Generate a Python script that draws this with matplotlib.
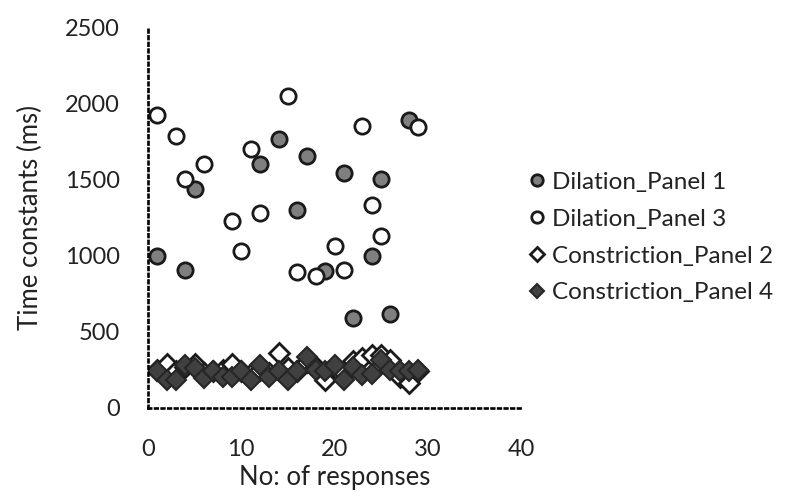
import matplotlib.pyplot as plt

# time constants for each panel, x = response number
dil1_x = [1, 4, 5, 12, 14, 16, 17, 19, 21, 22, 24, 25, 26, 28]
dil1_y = [1000, 905, 1435, 1600, 1765, 1300, 1655, 900, 1545, 590, 995, 1500, 615, 1890]

dil3_x = [1, 3, 4, 6, 9, 10, 11, 12, 15, 16, 18, 20, 21, 23, 24, 25, 29]
dil3_y = [1920, 1785, 1505, 1600, 1225, 1030, 1700, 1280, 2050, 890, 865, 1065, 905,
          1850, 1330, 1130, 1845]

con2_x = list(range(1, 30))
con2_y = [250, 290, 240, 270, 290, 230, 240, 250, 290, 240, 220, 250, 230, 360, 260,
          240, 300, 270, 185, 260, 230, 310, 325, 345, 345, 315, 205, 165, 240]

con4_x = list(range(1, 30))
con4_y = [240, 185, 185, 280, 260, 195, 240, 205, 205, 240, 185, 280, 205, 240, 185,
          240, 335, 250, 240, 280, 185, 270, 215, 225, 315, 250, 240, 240, 250]

plt.rcParams['font.family'] = ['Lato', 'DejaVu Sans']

fig = plt.figure(figsize=(8.07, 5.0), dpi=100)
ax = fig.add_axes([0.1834, 0.184, 0.4622, 0.762])

ax.plot(dil1_x, dil1_y, 'o', ms=11, mfc='#7f7f7f', mec='#1a1a1a', mew=2,
        ls='none', label='Dilation_Panel 1')
ax.plot(dil3_x, dil3_y, 'o', ms=11, mfc='white', mec='#1a1a1a', mew=2,
        ls='none', label='Dilation_Panel 3')
ax.plot(con2_x, con2_y, 'D', ms=10, mfc='white', mec='#1a1a1a', mew=2,
        ls='none', label='Constriction_Panel 2')
ax.plot(con4_x, con4_y, 'D', ms=10, mfc='#404040', mec='#262626', mew=1.5,
        ls='none', label='Constriction_Panel 4')

ax.set_xlim(0, 40)
ax.set_ylim(0, 2500)
ax.set_xticks([0, 10, 20, 30, 40])
ax.set_yticks([0, 500, 1000, 1500, 2000, 2500])
ax.tick_params(length=0, labelsize=17, colors='#222222')
ax.tick_params(axis='y', pad=20)
ax.tick_params(axis='x', pad=22)

for s in ['top', 'right']:
    ax.spines[s].set_visible(False)
for s in ['left', 'bottom']:
    ax.spines[s].set_linestyle((0, (1, 1.5)))
    ax.spines[s].set_linewidth(1.9)
    ax.spines[s].set_color('black')

ax.set_xlabel('No: of responses', fontsize=18.5, color='#222222', labelpad=4)
ax.set_ylabel('Time constants (ms)', fontsize=18.5, color='#222222', labelpad=16)

ax.legend(loc='center left', bbox_to_anchor=(0.955, 0.447), frameon=False,
          fontsize=17.5, handletextpad=0.15, handlelength=0.9, labelspacing=0.65,
          markerscale=0.75, labelcolor='#222222')

fig.savefig('out.png', dpi=100)
